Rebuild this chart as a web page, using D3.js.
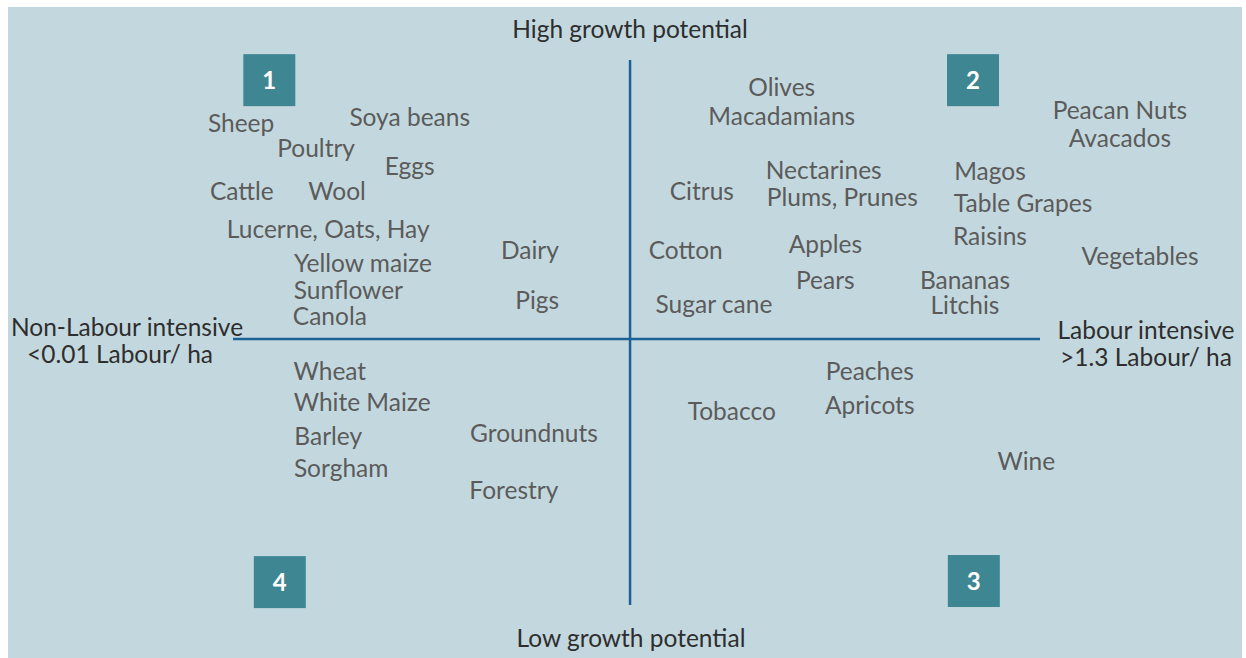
<!DOCTYPE html>
<html lang="en">
<head>
<meta charset="utf-8">
<script src="https://d3js.org/d3.v7.min.js"></script>
<style>
  body { margin: 0; background: #fff; }
  .crop { fill: #5b5b5b; font-family: Lato, "Open Sans", sans-serif; font-size: 24.5px; }
  .axis-title { fill: #2e2e2e; font-family: Lato, "Open Sans", sans-serif; font-size: 24.5px; }
  .quad-num { fill: #fff; font-family: Lato, sans-serif; font-size: 24px; font-weight: bold; }
</style>
</head>
<body>
<svg id="chart" width="1246" height="658"></svg>
<script>
// labour intensity (x, 0-100ish) vs growth potential (y, 0-100)
const crops = ["Sheep", "Soya beans", "Poultry", "Eggs", "Cattle", "Wool", "Lucerne, Oats, Hay",
  "Yellow maize", "Sunflower", "Canola", "Dairy", "Pigs",
  "Olives", "Macadamians", "Nectarines", "Plums, Prunes", "Citrus", "Cotton", "Apples", "Pears",
  "Sugar cane", "Magos", "Table Grapes", "Raisins", "Vegetables", "Bananas", "Litchis",
  "Peacan Nuts", "Avacados",
  "Wheat", "White Maize", "Barley", "Sorgham", "Groundnuts", "Forestry",
  "Tobacco", "Peaches", "Apricots", "Wine"];
const labour = [1.0, 21.9, 10.3, 21.9, 1.1, 12.9, 11.8,
  16.1, 14.3, 12.0, 36.8, 37.7,
  68.0, 68.0, 73.2, 75.5, 58.1, 56.1, 73.4, 73.4,
  59.6, 93.8, 97.9, 93.8, 112.4, 90.7, 90.7,
  109.9, 109.9,
  12.0, 16.0, 11.8, 13.4, 37.3, 34.8,
  61.8, 78.9, 78.9, 98.3];
const growth = [88.4, 89.5, 83.7, 80.4, 75.8, 75.8, 69.0,
  62.6, 57.8, 53.0, 65.0, 55.8,
  94.9, 89.7, 79.8, 74.7, 75.8, 65.0, 66.2, 59.6,
  55.2, 79.6, 73.6, 67.7, 63.9, 59.6, 54.9,
  90.8, 85.7,
  42.9, 37.1, 31.0, 25.1, 31.4, 21.1,
  35.6, 42.9, 36.7, 26.4];

const quadrants = ["1", "2", "3", "4"];
const quadLabour = [4.5, 91.7, 91.8, 5.8];
const quadGrowth = [96.3, 96.3, 4.4, 4.2];

const crossLabour = 49.2;
const crossGrowth = 48.8;

const svg = d3.select("#chart");

svg.append("rect")
  .attr("x", 8).attr("y", 7)
  .attr("width", 1234).attr("height", 651)
  .attr("fill", "#c3d8de");

const x = d3.scaleLinear().domain([0, 100]).range([233, 1040]);
const y = d3.scaleLinear().domain([0, 100]).range([605, 60]);

// axes cross
svg.append("line")
  .attr("x1", x(0)).attr("x2", x(100))
  .attr("y1", y(crossGrowth)).attr("y2", y(crossGrowth))
  .attr("stroke", "#1d6096").attr("stroke-width", 2.5);
svg.append("line")
  .attr("x1", x(crossLabour)).attr("x2", x(crossLabour))
  .attr("y1", y(0)).attr("y2", y(100))
  .attr("stroke", "#1d6096").attr("stroke-width", 2.5);

// quadrant boxes
const quad = svg.selectAll("g.quad")
  .data(quadrants)
  .enter().append("g")
  .attr("class", "quad")
  .attr("transform", (d, i) => `translate(${x(quadLabour[i])},${y(quadGrowth[i])})`);
quad.append("rect")
  .attr("x", -26).attr("y", -26)
  .attr("width", 52).attr("height", 52)
  .attr("fill", "#3f8693");
quad.append("text")
  .attr("class", "quad-num")
  .attr("text-anchor", "middle")
  .attr("dy", "0.36em")
  .text(d => d);

// crop labels
svg.selectAll("text.crop")
  .data(crops)
  .enter().append("text")
  .attr("class", "crop")
  .attr("x", (d, i) => x(labour[i]))
  .attr("y", (d, i) => y(growth[i]))
  .attr("dy", "0.35em")
  .attr("text-anchor", "middle")
  .text(d => d);

// axis titles
const titles = [
  { t: "High growth potential", x: 630, y: 29 },
  { t: "Low growth potential", x: 631, y: 638 },
  { t: "Non-Labour intensive", x: 127, y: 327 },
  { t: "<0.01 Labour/ ha", x: 120, y: 354 },
  { t: "Labour intensive", x: 1146, y: 330 },
  { t: ">1.3 Labour/ ha", x: 1146, y: 357 }
];
svg.selectAll("text.axis-title")
  .data(titles)
  .enter().append("text")
  .attr("class", "axis-title")
  .attr("x", d => d.x)
  .attr("y", d => d.y)
  .attr("dy", "0.35em")
  .attr("text-anchor", "middle")
  .text(d => d.t);
</script>
</body>
</html>
